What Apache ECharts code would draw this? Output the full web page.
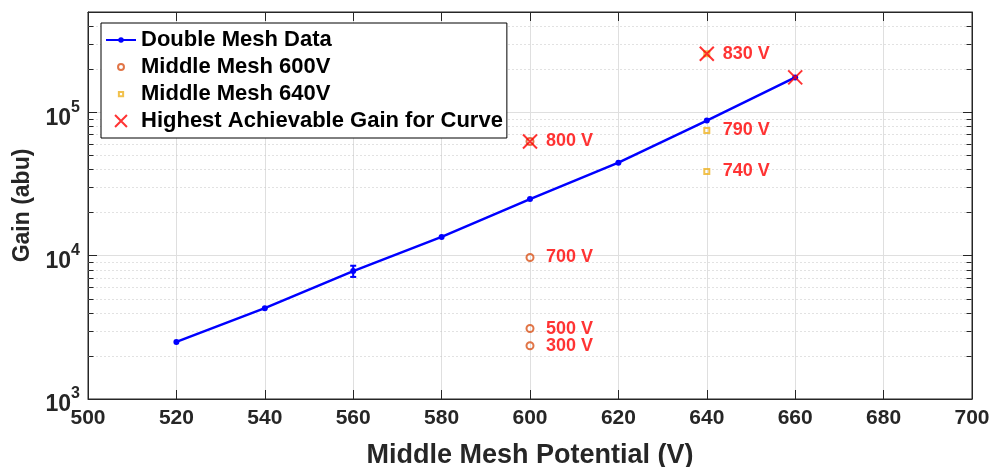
<!DOCTYPE html>
<html>
<head>
<meta charset="utf-8">
<script src="https://cdn.jsdelivr.net/npm/echarts@6/dist/echarts.min.js"></script>
<style>
html,body{margin:0;padding:0;background:#fff;}
#chart{width:995px;height:467px;}
</style>
</head>
<body>
<div id="chart"></div>
<script>
// ---- data ----
const doubleMeshX = [520, 540, 560, 580, 600, 620, 640, 660];
const doubleMeshGain = [2500, 4300, 7800, 13500, 24800, 44500, 87500, 175000];
const errorBarX = [560];
const errorBarLow = [7100];
const errorBarHigh = [8500];

const mm600X = [600, 600, 600, 600];
const mm600Gain = [2350, 3100, 9700, 62500];
const mm600Labels = ['300 V', '500 V', '700 V', '800 V'];

const mm640X = [640, 640, 640];
const mm640Gain = [38600, 74700, 256000];
const mm640Labels = ['740 V', '790 V', '830 V'];

const highestX = [600, 640, 660];
const highestGain = [62500, 256000, 175000];

const seriesNames = ['Double Mesh Data', 'Middle Mesh 600V', 'Middle Mesh 640V', 'Highest Achievable Gain for Curve'];
const minorTickValues = [2000, 3000, 4000, 5000, 6000, 7000, 8000, 9000,
  20000, 30000, 40000, 50000, 60000, 70000, 80000, 90000,
  200000, 300000, 400000];
const xTickValues = [500, 520, 540, 560, 580, 600, 620, 640, 660, 680, 700];

// ---- chart ----
const FONT = "'Liberation Sans', Arial, Helvetica, sans-serif";
const AX = '#262626';
const pad = 'M0,0M20,20';
const dotPath = 'path://' + pad + 'M14,10A4,4,0,1,1,6,10A4,4,0,1,1,14,10Z';
const circPath = 'path://' + pad + 'M13.5,10A3.5,3.5,0,1,1,6.5,10A3.5,3.5,0,1,1,13.5,10Z';
const sqPath = 'path://' + pad + 'M7.5,7.5L12.5,7.5L12.5,12.5L7.5,12.5Z';
const xPath = 'path://' + pad + 'M3,3L17,17M17,3L3,17';

const chart = echarts.init(document.getElementById('chart'), null, {renderer: 'canvas'});

function zip(a, b) { return a.map((v, i) => [v, b[i]]); }

const yLabelFmt = function (v) {
  const e = Math.log10(v);
  const r = Math.round(e);
  if (Math.abs(e - r) > 1e-6) return '';
  return '{b|10}{s|' + r + '}';
};

const option = {
  animation: false,
  backgroundColor: '#fff',
  grid: {left: 88, right: 23, top: 12, bottom: 68, containLabel: false, outerBoundsMode: 'none',
    show: true, borderColor: AX, borderWidth: 1, backgroundColor: '#fff'},
  legend: {
    data: seriesNames,
    orient: 'vertical',
    left: 101, top: 23,
    backgroundColor: '#fff',
    borderColor: '#000', borderWidth: 1, borderRadius: 0,
    padding: [6, 4, 6, 4],
    itemGap: 5,
    itemWidth: 30, itemHeight: 17,
    textStyle: {fontFamily: FONT, fontWeight: 'bold', fontSize: 22, color: '#000', lineHeight: 22},
    selectedMode: false
  },
  xAxis: [{
    type: 'value', position: 'bottom', min: 500, max: 700, interval: 20,
    axisLine: {show: true, onZero: false, lineStyle: {color: AX}},
    axisTick: {show: true, inside: true, length: 9, lineStyle: {color: AX}},
    axisLabel: {color: AX, fontFamily: FONT, fontWeight: 'bold', fontSize: 21, margin: 9},
    splitLine: {show: true, lineStyle: {color: '#dfdfdf', width: 1}},
    name: 'Middle Mesh Potential (V)', nameLocation: 'middle', nameGap: 43,
    nameTextStyle: {color: AX, fontFamily: FONT, fontWeight: 'bold', fontSize: 27}
  }, {
    type: 'value', position: 'top', min: 500, max: 700, interval: 20,
    axisLine: {show: true, onZero: false, lineStyle: {color: AX}},
    axisTick: {show: true, inside: true, length: 9, lineStyle: {color: AX}},
    axisLabel: {show: false}, splitLine: {show: false}
  }],
  yAxis: [{
    type: 'log', logBase: 10, position: 'left', min: 1000, max: 500000,
    axisLine: {show: true, onZero: false, lineStyle: {color: AX}},
    axisTick: {show: true, inside: true, length: 9, lineStyle: {color: AX}},
    axisLabel: {
      color: AX, fontFamily: FONT, fontWeight: 'bold', margin: 8, showMaxLabel: false,
      formatter: yLabelFmt,
      rich: {
        b: {fontSize: 23, fontWeight: 'bold', fontFamily: FONT, color: AX, padding: [12, 0, 0, 0]},
        s: {fontSize: 16, fontWeight: 'bold', fontFamily: FONT, color: AX, padding: [0, 0, 10, 0]}
      }
    },
    splitLine: {show: true, lineStyle: {color: '#dfdfdf', width: 1}},
    name: 'Gain (abu)', nameLocation: 'middle', nameGap: 43, nameRotate: 90,
    nameTextStyle: {color: AX, fontFamily: FONT, fontWeight: 'bold', fontSize: 23}
  }, {
    type: 'log', logBase: 10, position: 'right', min: 1000, max: 500000,
    axisLine: {show: true, onZero: false, lineStyle: {color: AX}},
    axisTick: {show: true, inside: true, length: 9, lineStyle: {color: AX}},
    axisLabel: {show: false}, splitLine: {show: false}
  }],
  series: [
    {
      type: 'custom', name: 'minorGrid', z: 1, silent: true,
      encode: {x: 0, y: 1},
      data: minorTickValues.map(v => [500, v]),
      renderItem: function (params, api) {
        const v = api.value(1);
        const a = api.coord([500, v]);
        const b = api.coord([700, v]);
        const y = Math.round(a[1]) + 0.5;
        const x0 = Math.round(a[0]) + 0.5, x1 = Math.round(b[0]) - 0.5;
        return {type: 'group', children: [
          {type: 'line', shape: {x1: x0, y1: y, x2: x1, y2: y}, style: {stroke: '#c4c4c4', lineWidth: 1, lineDash: [1, 3]}},
          {type: 'line', shape: {x1: x0, y1: y, x2: x0 + 5, y2: y}, style: {stroke: AX, lineWidth: 1}},
          {type: 'line', shape: {x1: x1 - 5, y1: y, x2: x1, y2: y}, style: {stroke: AX, lineWidth: 1}}
        ]};
      }
    },
    {
      type: 'line', name: seriesNames[0], z: 3,
      data: zip(doubleMeshX, doubleMeshGain),
      symbol: dotPath, symbolSize: 15, showAllSymbol: true,
      lineStyle: {color: '#0000ff', width: 2.5},
      itemStyle: {color: '#0000ff'}
    },
    {
      type: 'custom', name: 'errorBar', z: 4, silent: true,
      encode: {x: 0, y: [1, 2]},
      data: errorBarX.map((x, i) => [x, errorBarLow[i], errorBarHigh[i]]),
      renderItem: function (params, api) {
        const lo = api.coord([api.value(0), api.value(1)]);
        const hi = api.coord([api.value(0), api.value(2)]);
        const st = {stroke: '#0000ff', lineWidth: 2};
        return {type: 'group', children: [
          {type: 'line', shape: {x1: lo[0], y1: lo[1], x2: hi[0], y2: hi[1]}, style: st},
          {type: 'line', shape: {x1: lo[0] - 3, y1: lo[1], x2: lo[0] + 3, y2: lo[1]}, style: st},
          {type: 'line', shape: {x1: hi[0] - 3, y1: hi[1], x2: hi[0] + 3, y2: hi[1]}, style: st}
        ]};
      }
    },
    {
      type: 'scatter', name: seriesNames[1], z: 5,
      data: zip(mm600X, mm600Gain),
      symbol: circPath, symbolSize: 20,
      itemStyle: {color: 'rgba(255,255,255,0)', borderColor: '#D95319', borderWidth: 2},
      label: {show: true, position: 'right', distance: 5,
        formatter: p => mm600Labels[p.dataIndex],
        color: '#ff0000', fontFamily: FONT, fontWeight: 'bold', fontSize: 18}
    },
    {
      type: 'scatter', name: seriesNames[2], z: 5,
      data: zip(mm640X, mm640Gain),
      symbol: sqPath, symbolSize: 20,
      itemStyle: {color: 'rgba(255,255,255,0)', borderColor: '#EDB120', borderWidth: 2},
      label: {show: true, position: 'right', distance: 5,
        formatter: p => mm640Labels[p.dataIndex],
        color: '#ff0000', fontFamily: FONT, fontWeight: 'bold', fontSize: 18}
    },
    {
      type: 'scatter', name: seriesNames[3], z: 6,
      data: zip(highestX, highestGain),
      symbol: xPath, symbolSize: 20,
      itemStyle: {color: 'rgba(255,255,255,0)', borderColor: '#ff0000', borderWidth: 2}
    }
  ]
};
chart.setOption(option);
</script>
</body>
</html>
